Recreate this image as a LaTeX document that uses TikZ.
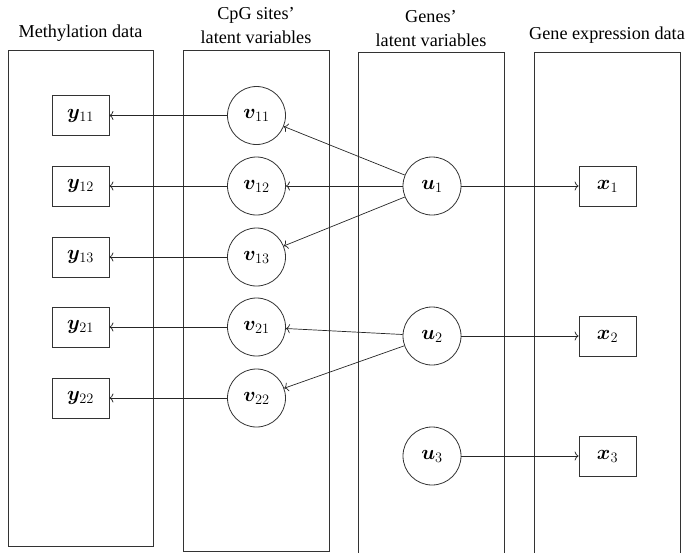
\RequirePackage{fix-cm}
\documentclass[tikz,border=0pt]{standalone}
\usepackage{bm}
\usepackage[no-math]{fontspec}
\setmainfont{Liberation Serif}
\usetikzlibrary{arrows.meta}
\begin{document}
\begin{tikzpicture}[x=1pt,y=-1pt,
  font=\fontsize{18.2}{22}\selectfont,
  panel/.style={draw=black!80, line width=0.9pt},
  obs/.style={draw=black!80, line width=0.8pt, minimum width=57pt, minimum height=40pt, inner sep=0pt, font=\fontsize{20.5}{24}\selectfont},
  lat/.style={draw=black!80, line width=0.8pt, circle, minimum size=58pt, inner sep=0pt, font=\fontsize{20.5}{24}\selectfont},
  conn/.style={-{To[length=4pt,width=9pt]}, line width=0.7pt, draw=black!85},
  hdr/.style={align=center, inner sep=0pt}]
\useasboundingbox (0,0) rectangle (690,552);
\begin{scope}
\clip (0,0) rectangle (690,552);
\draw[panel] (8,50) rectangle (153,546);
\draw[panel] (183,50) rectangle (329,551);
\draw[panel] (358,52) rectangle (504,570);
\draw[panel] (534,52) rectangle (680,570);
\end{scope}
% headers
\node[hdr] (h1) at (80.5,33) {Methylation data};
\node[hdr] (h2a) at (256,15) {CpG sites’};
\node[hdr] (h2b) at (256,37) {latent variables};
\node[hdr] (h3a) at (431,17) {Genes’};
\node[hdr] (h3b) at (431,40) {latent variables};
\node[hdr] (h4) at (607,35) {Gene expression data};
% observed methylation
\node[obs] (y11) at (80.5,115.5) {$\bm{y}_{11}$};
\node[obs] (y12) at (80.5,186) {$\bm{y}_{12}$};
\node[obs] (y13) at (80.5,257) {$\bm{y}_{13}$};
\node[obs] (y21) at (80.5,327) {$\bm{y}_{21}$};
\node[obs] (y22) at (80.5,398) {$\bm{y}_{22}$};
% CpG latent
\node[lat] (v11) at (256.5,115.5) {$\bm{v}_{11}$};
\node[lat] (v12) at (256.5,186) {$\bm{v}_{12}$};
\node[lat] (v13) at (256.5,257) {$\bm{v}_{13}$};
\node[lat] (v21) at (256.5,327) {$\bm{v}_{21}$};
\node[lat] (v22) at (256.5,398) {$\bm{v}_{22}$};
% gene latent
\node[lat] (u1) at (432,186) {$\bm{u}_{1}$};
\node[lat] (u2) at (432,336) {$\bm{u}_{2}$};
\node[lat] (u3) at (432,456) {$\bm{u}_{3}$};
% expression
\node[obs] (x1) at (607.5,186) {$\bm{x}_{1}$};
\node[obs] (x2) at (607.5,336) {$\bm{x}_{2}$};
\node[obs] (x3) at (607.5,456) {$\bm{x}_{3}$};
% connectors
\draw[conn] (v11) -- (y11);
\draw[conn] (v12) -- (y12);
\draw[conn] (v13) -- (y13);
\draw[conn] (v21) -- (y21);
\draw[conn] (v22) -- (y22);
\draw[conn] (u1) -- (v11);
\draw[conn] (u1) -- (v12);
\draw[conn] (u1) -- (v13);
\draw[conn] (u2) -- (v21);
\draw[conn] (u2) -- (v22);
\draw[conn] (u1) -- (x1);
\draw[conn] (u2) -- (x2);
\draw[conn] (u3) -- (x3);
\end{tikzpicture}
\end{document}
